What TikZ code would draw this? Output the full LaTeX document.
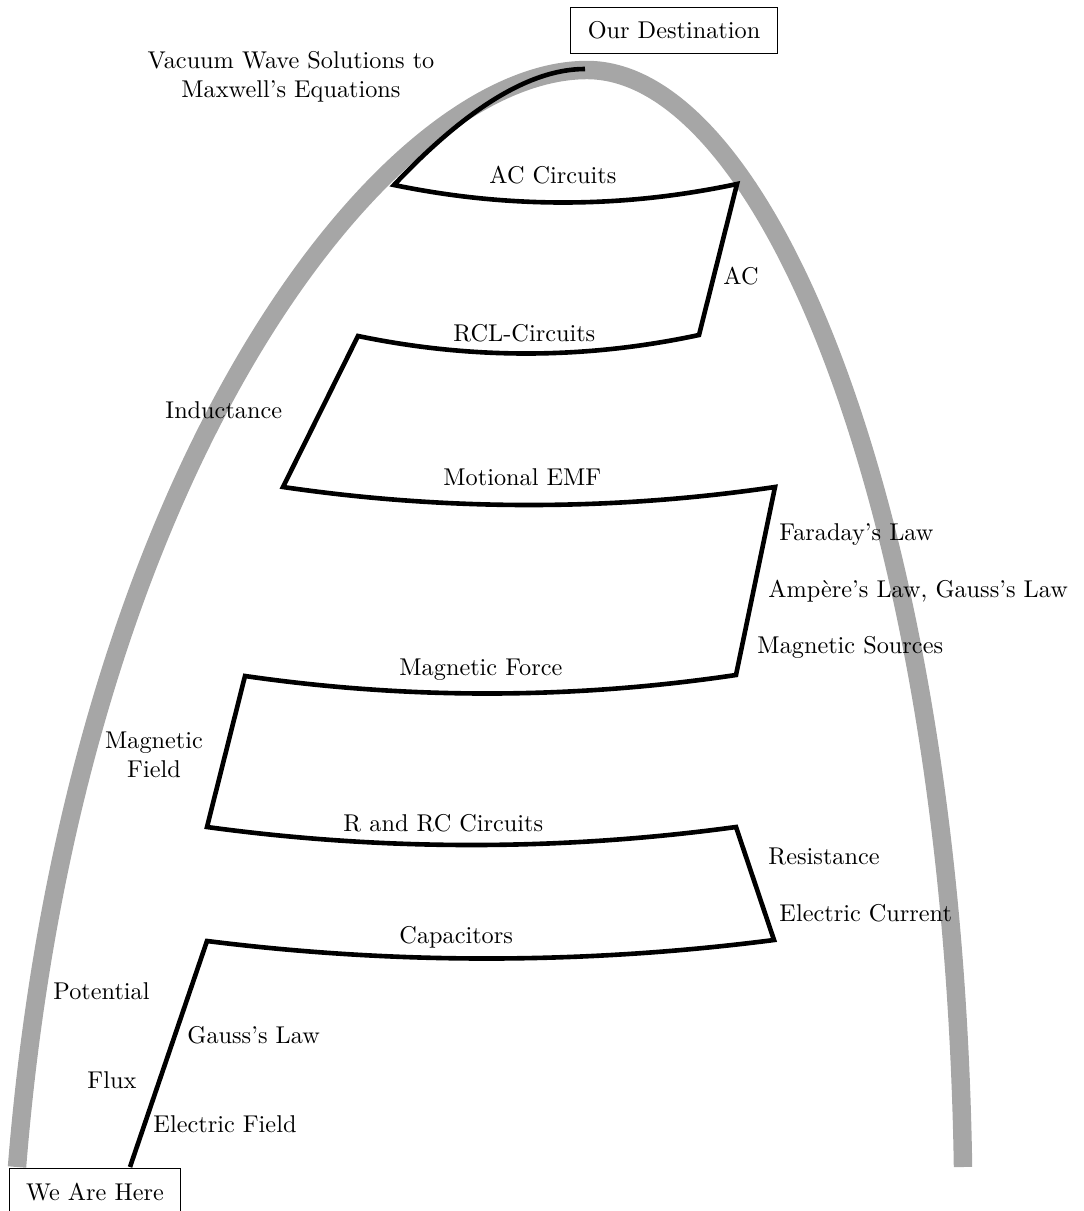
\documentclass[tikz,border=0pt]{standalone}
\usepackage{fontspec}
\usetikzlibrary{calc}
\begin{document}
\begin{tikzpicture}[x=0.412pt, y=-0.412pt,
  arch/.style={line width=7.6pt, color=gray!70},
  route/.style={line width=1.9pt, black},
  lbl/.style={inner sep=0pt, anchor=base west},
  endbox/.style={draw, line width=0.5pt, inner xsep=7pt, inner ysep=6pt, anchor=center}
]
\useasboundingbox (0,0) rectangle (1084,1211);

% grey arch
\draw[arch] (17,1167) .. controls (73,467) and (387,70) .. (587,70)
                      .. controls (767,70) and (953,517) .. (963,1167);

% route corners
\coordinate (c0) at (130,1167);
\coordinate (c1) at (207,941);
\coordinate (c2) at (774,940);
\coordinate (c3) at (736,827);
\coordinate (c4) at (207,827);
\coordinate (c5) at (245,676);
\coordinate (c6) at (736,675);
\coordinate (c7) at (775,487);
\coordinate (c8) at (283,487);
\coordinate (c9) at (358,336);
\coordinate (c10) at (699,335);
\coordinate (c11) at (737,184);
\coordinate (c12) at (394,185);
\coordinate (c13) at (585,69);

\draw[route] (c0) -- (c1)
  .. controls ($(c1)!1/3!(c2)+(0,24)$) and ($(c1)!2/3!(c2)+(0,24)$) .. (c2)
  -- (c3)
  .. controls ($(c3)!1/3!(c4)+(0,24)$) and ($(c3)!2/3!(c4)+(0,24)$) .. (c4)
  -- (c5)
  .. controls ($(c5)!1/3!(c6)+(0,24)$) and ($(c5)!2/3!(c6)+(0,24)$) .. (c6)
  -- (c7)
  .. controls ($(c7)!1/3!(c8)+(0,24)$) and ($(c7)!2/3!(c8)+(0,24)$) .. (c8)
  -- (c9)
  .. controls ($(c9)!1/3!(c10)+(0,24)$) and ($(c9)!2/3!(c10)+(0,24)$) .. (c10)
  -- (c11)
  .. controls ($(c11)!1/3!(c12)+(0,24)$) and ($(c11)!2/3!(c12)+(0,24)$) .. (c12)
  .. controls (462,113) and (527,69) .. (c13);

% end boxes
\node[endbox] (dest) at (674,30.5) {Our Destination};
\node[endbox] (here) at (95,1192) {We Are Here};

% labels
\node[inner sep=0pt, align=center] (vac) at (291,77) {Vacuum Wave Solutions to\\Maxwell's Equations};
\node[lbl] (acc) at (489,184) {AC Circuits};
\node[lbl] (ac) at (723,284) {AC};
\node[lbl] (rcl) at (453,341) {RCL-Circuits};
\node[lbl] (ind) at (165,418) {Inductance};
\node[lbl] (emf) at (443,485) {Motional EMF};
\node[lbl] (far) at (779,540) {Faraday's Law};
\node[lbl] (amp) at (768,597) {Ampère's Law, Gauss's Law};
\node[lbl] (msrc) at (757,653) {Magnetic Sources};
\node[lbl] (mforce) at (399,675) {Magnetic Force};
\node[inner sep=0pt, align=center] (mfield) at (154,755) {Magnetic\\Field};
\node[lbl] (rrc) at (343,831) {R and RC Circuits};
\node[lbl] (res) at (768,864) {Resistance};
\node[lbl] (cur) at (779,921) {Electric Current};
\node[lbl] (cap) at (399,943) {Capacitors};
\node[lbl] (pot) at (53,999) {Potential};
\node[lbl] (gauss) at (187,1043) {Gauss's Law};
\node[lbl] (flux) at (87,1088) {Flux};
\node[lbl] (efield) at (153,1132) {Electric Field};
\end{tikzpicture}
\end{document}
